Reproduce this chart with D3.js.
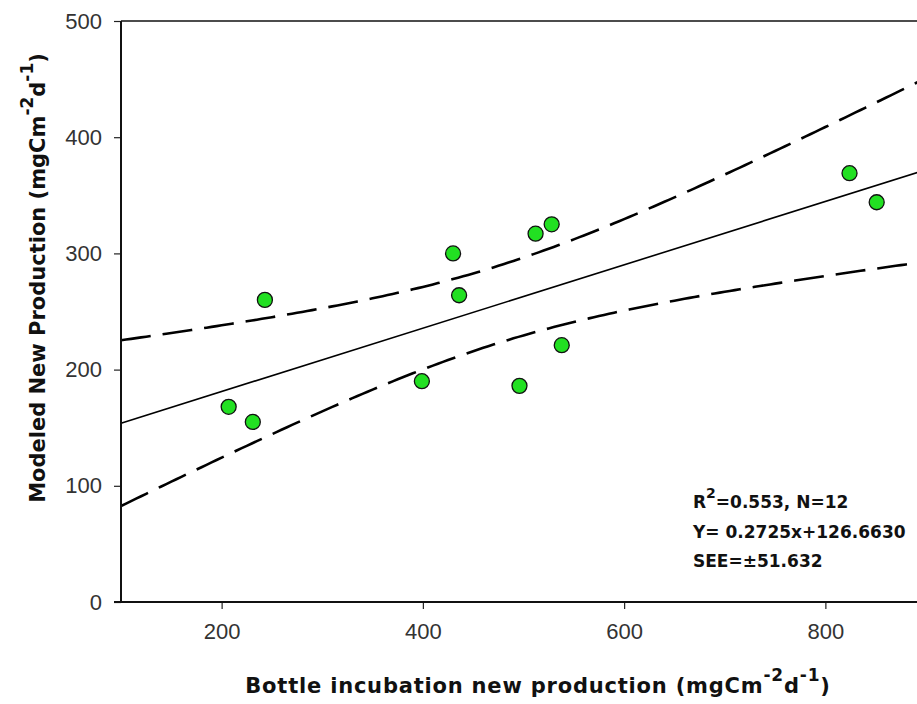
<!DOCTYPE html>
<html>
<head>
<meta charset="utf-8">
<script src="https://cdn.jsdelivr.net/npm/d3@7"></script>
<style>
  body { margin: 0; background: #fff; }
  svg { display: block; }
</style>
</head>
<body>
<script>
// data
var bottleNP  = [207, 231, 243, 399, 430, 436, 496, 512, 528, 538, 824, 851]
var modeledNP = [168, 155, 260, 190, 300, 264, 186, 317, 325, 221, 369, 344]
var xTicks = [200, 400, 600, 800]
var yTicks = [0, 100, 200, 300, 400, 500]

// regression stats printed on the chart
var slope = 0.2725, intercept = 126.6630, see = 51.632, tCrit = 2.228
var statLines = ["R2=0.553, N=12", "Y= 0.2725x+126.6630", "SEE=\u00b151.632"]

var W = 917, H = 704

var svg = d3.select("body").append("svg")
    .attr("width", W).attr("height", H)

var x = d3.scaleLinear().domain([100, 900]).range([121, 926])
var y = d3.scaleLinear().domain([0, 500]).range([602, 21])

// confidence band for the mean around the fit
var n = bottleNP.length
var xbar = d3.mean(bottleNP)
var sxx = d3.sum(bottleNP, function(v) { return (v - xbar) * (v - xbar) })
function band(xv, sign) {
    return slope * xv + intercept + sign * tCrit * see * Math.sqrt(1 / n + (xv - xbar) * (xv - xbar) / sxx)
}
var xs = d3.range(100, 901, 5)

var line = d3.line().x(function(d) { return x(d[0]) }).y(function(d) { return y(d[1]) })

var plot = svg.append("g")

plot.append("path")
    .attr("d", line([[100, slope * 100 + intercept], [900, slope * 900 + intercept]]))
    .attr("fill", "none").attr("stroke", "#000").attr("stroke-width", 1.6)

;[1, -1].forEach(function(s) {
    plot.append("path")
        .attr("d", line(xs.map(function(v) { return [v, band(v, s)] })))
        .attr("fill", "none").attr("stroke", "#000")
        .attr("stroke-width", 2.6)
        .attr("stroke-dasharray", "30,12")
})

plot.selectAll("circle")
    .data(bottleNP)
    .enter().append("circle")
    .attr("cx", function(d) { return x(d) })
    .attr("cy", function(d, i) { return y(modeledNP[i]) })
    .attr("r", 7.5)
    .attr("fill", "#22e022")
    .attr("stroke", "#111")
    .attr("stroke-width", 1.3)

// axes
var yAxis = svg.append("g")
    .attr("transform", "translate(" + x(100) + ",0)")
    .call(d3.axisLeft(y).tickValues(yTicks).tickSize(7).tickPadding(12))
var xAxis = svg.append("g")
    .attr("transform", "translate(0," + y(0) + ")")
    .call(d3.axisBottom(x).tickValues(xTicks).tickSize(7).tickPadding(14))

;[xAxis, yAxis].forEach(function(a) {
    a.select(".domain").remove()
    a.selectAll("line").attr("stroke", "#222").attr("stroke-width", 1.2)
    a.selectAll("text")
        .attr("font-family", "Liberation Sans, Arial, sans-serif")
        .attr("font-size", "22px")
        .attr("fill", "#333")
})
// frame lines: left, bottom, top
svg.append("line").attr("x1", x(100)).attr("x2", x(100)).attr("y1", y(500)).attr("y2", y(0))
    .attr("stroke", "#111").attr("stroke-width", 2)
svg.append("line").attr("x1", x(100) - 7).attr("x2", W).attr("y1", y(0)).attr("y2", y(0))
    .attr("stroke", "#111").attr("stroke-width", 2)
svg.append("line").attr("x1", x(100)).attr("x2", W).attr("y1", y(500)).attr("y2", y(500))
    .attr("stroke", "#111").attr("stroke-width", 1.6)

// stats box
var stats = svg.append("g")
    .attr("font-family", "DejaVu Sans, sans-serif")
    .attr("font-weight", "bold")
    .attr("font-size", "17px")
    .attr("fill", "#111")
var t0 = stats.append("text").attr("x", 693).attr("y", 508)
t0.append("tspan").text("R")
t0.append("tspan").attr("dy", -10).attr("font-size", "14px").text("2")
t0.append("tspan").attr("dy", 10).text("=0.553, N=12")
stats.append("text").attr("x", 693).attr("y", 538).text(statLines[1])
stats.append("text").attr("x", 693).attr("y", 567).text(statLines[2])

// axis titles
var labelFont = "DejaVu Sans, sans-serif"
var xl = svg.append("text")
    .attr("x", 538).attr("y", 693)
    .attr("text-anchor", "middle")
    .attr("font-family", labelFont).attr("font-weight", "bold").attr("font-size", "21px")
    .attr("letter-spacing", "0.8px")
    .attr("fill", "#111")
xl.append("tspan").text("Bottle incubation new production (mgCm")
xl.append("tspan").attr("dy", -12).attr("font-size", "17px").text("-2")
xl.append("tspan").attr("dy", 12).text("d")
xl.append("tspan").attr("dy", -12).attr("font-size", "17px").text("-1")
xl.append("tspan").attr("dy", 12).text(")")

var yl = svg.append("text")
    .attr("transform", "translate(45,278) rotate(-90)")
    .attr("text-anchor", "middle")
    .attr("font-family", labelFont).attr("font-weight", "bold").attr("font-size", "21px")
    .attr("fill", "#111")
yl.append("tspan").text("Modeled New Production (mgCm")
yl.append("tspan").attr("dy", -12).attr("font-size", "17px").text("-2")
yl.append("tspan").attr("dy", 12).text("d")
yl.append("tspan").attr("dy", -12).attr("font-size", "17px").text("-1")
yl.append("tspan").attr("dy", 12).text(")")
</script>
</body>
</html>
